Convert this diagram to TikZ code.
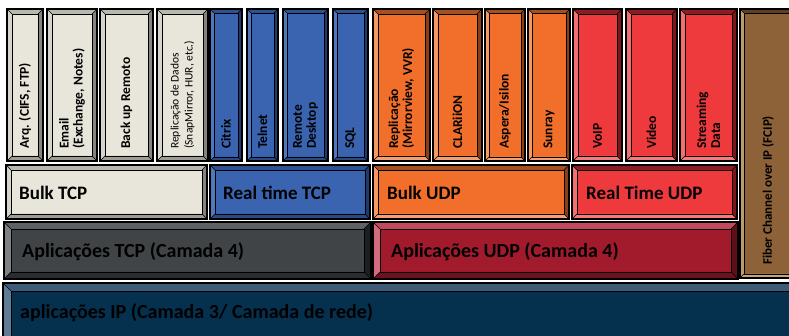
\documentclass[tikz,border=0pt]{standalone}
\usepackage{fontspec}
\setmainfont{Carlito}

% fill, top, left, bottom, right
\definecolor{beigeF}{HTML}{E8E6DA}\definecolor{beigeT}{HTML}{B9B8AE}
\definecolor{beigeL}{HTML}{D6D5CB}\definecolor{beigeB}{HTML}{9D9C95}
\definecolor{beigeR}{HTML}{85847E}
\definecolor{blueF}{HTML}{3A64AF}\definecolor{blueT}{HTML}{2E5192}
\definecolor{blueL}{HTML}{5078BE}\definecolor{blueB}{HTML}{2A4A86}
\definecolor{blueR}{HTML}{1F3A6E}
\definecolor{orangeF}{HTML}{F26F2B}\definecolor{orangeT}{HTML}{A4501F}
\definecolor{orangeL}{HTML}{F79A62}\definecolor{orangeB}{HTML}{F6A072}
\definecolor{orangeR}{HTML}{8A3E14}
\definecolor{redF}{HTML}{EE393D}\definecolor{redT}{HTML}{8E1C20}
\definecolor{redL}{HTML}{F36F72}\definecolor{redB}{HTML}{F47A7C}
\definecolor{redR}{HTML}{7E1519}
\definecolor{brownF}{HTML}{8D6239}\definecolor{brownT}{HTML}{5E3F22}
\definecolor{brownL}{HTML}{C09A70}\definecolor{brownB}{HTML}{C7A47B}
\definecolor{brownR}{HTML}{5A3A1D}
\definecolor{grayF}{HTML}{414446}\definecolor{grayT}{HTML}{5F6264}
\definecolor{grayL}{HTML}{7F8285}\definecolor{grayB}{HTML}{2A2C2E}
\definecolor{grayR}{HTML}{1D1E20}
\definecolor{dredF}{HTML}{A11B2D}\definecolor{dredT}{HTML}{C24A5C}
\definecolor{dredL}{HTML}{D26B7D}\definecolor{dredB}{HTML}{6E1220}
\definecolor{dredR}{HTML}{5E0E18}
\definecolor{navyF}{HTML}{05314F}\definecolor{navyT}{HTML}{3E5C78}
\definecolor{navyL}{HTML}{5E7C96}\definecolor{navyB}{HTML}{031F33}
\definecolor{navyR}{HTML}{021A2B}

% x0, y0, x1, y1, bevel, colour set
\newcommand\bevbox[6]{%
  \fill[#6F] (#1,#2) rectangle (#3,#4);
  \fill[#6T] (#1,#2) -- (#3,#2) -- (#3-#5,#2+#5) -- (#1+#5,#2+#5) -- cycle;
  \fill[#6L] (#1,#2) -- (#1+#5,#2+#5) -- (#1+#5,#4-#5) -- (#1,#4) -- cycle;
  \fill[#6B] (#1,#4) -- (#1+#5,#4-#5) -- (#3-#5,#4-#5) -- (#3,#4) -- cycle;
  \fill[#6R] (#3,#2) -- (#3,#4) -- (#3-#5,#4-#5) -- (#3-#5,#2+#5) -- cycle;
  \draw[line width=0.4pt] (#1,#2) -- (#1+#5,#2+#5) (#3,#2) -- (#3-#5,#2+#5)
    (#1,#4) -- (#1+#5,#4-#5) (#3,#4) -- (#3-#5,#4-#5);
  \draw[line width=0.9pt] (#1+#5,#2+#5) rectangle (#3-#5,#4-#5);
  \draw[line width=1.5pt] (#1,#2) rectangle (#3,#4);
}

\tikzset{
  toplabel/.style={rotate=90, anchor=west, inner sep=0pt, align=left,
    font=\fontsize{13.5}{14}\selectfont\bfseries},
  thinlabel/.style={toplabel, font=\fontsize{11.5}{14}\selectfont},
  rowlabel/.style={anchor=west, inner sep=0pt,
    font=\fontsize{19}{21}\selectfont\bfseries},
  baselabel/.style={rowlabel, font=\fontsize{20}{22}\selectfont\bfseries},
}

\begin{document}
\begin{tikzpicture}[x=1pt, y=-1pt]
  \useasboundingbox (0,0) rectangle (789,336);
  \clip (0,0) rectangle (789,336);

  % top row
  \bevbox{7}{9}{43}{161}{5}{beige}
  \bevbox{47}{9}{97}{161}{5}{beige}
  \bevbox{100}{9}{153}{161}{5}{beige}
  \bevbox{157}{9}{208}{161}{5}{beige}
  \bevbox{210}{9}{242}{161}{4}{blue}
  \bevbox{247}{9}{278}{161}{4}{blue}
  \bevbox{283}{9}{328}{161}{4}{blue}
  \bevbox{333}{9}{368}{161}{4}{blue}
  \bevbox{373}{9}{430}{161}{5}{orange}
  \bevbox{433}{9}{482}{161}{5}{orange}
  \bevbox{485}{9}{525}{161}{4}{orange}
  \bevbox{528}{9}{570}{161}{4}{orange}
  \bevbox{573}{9}{622}{161}{5}{red}
  \bevbox{626}{9}{677}{161}{5}{red}
  \bevbox{680}{9}{737}{161}{5}{red}
  \bevbox{740}{9}{797}{278}{4}{brown}

  \node[toplabel] (arq) at (25,149) {Arq. (CIFS, FTP)};
  \node[toplabel] (email) at (72,149) {Email\\(Exchange, Notes)};
  \node[toplabel] (backup) at (126.5,149) {Back up Remoto};
  \node[thinlabel] (repdados) at (182.5,149) {Replicação de Dados\\(SnapMirror, HUR, etc.)};
  \node[toplabel] (citrix) at (226,149) {Citrix};
  \node[toplabel] (telnet) at (262.5,149) {Telnet};
  \node[toplabel] (rdesk) at (305.5,149) {Remote\\Desktop};
  \node[toplabel] (sql) at (350.5,149) {SQL};
  \node[toplabel] (repmv) at (401.5,149) {Replicação\\(Mirrorview, VVR)};
  \node[toplabel] (clariion) at (457.5,149) {CLARiiON};
  \node[toplabel] (aspera) at (505,149) {Aspera/Isilon};
  \node[toplabel] (sunray) at (549,149) {Sunray};
  \node[toplabel] (voip) at (597.5,149) {VoIP};
  \node[toplabel] (video) at (651.5,149) {Video};
  \node[toplabel] (stream) at (708.5,149) {Streaming\\Data};
  \node[toplabel, font=\fontsize{13}{14}\selectfont\bfseries] (fcip) at (768,265)
    {Fiber Channel over IP (FCIP)};

  % middle rows
  \bevbox{6}{165}{207}{219}{5}{beige}
  \bevbox{210}{165}{370}{219}{5}{blue}
  \bevbox{373}{165}{569}{219}{5}{orange}
  \bevbox{572}{165}{737}{219}{5}{red}
  \node[rowlabel] (bulktcp) at (19,193) {Bulk TCP};
  \node[rowlabel] (rttcp) at (223,193) {Real time TCP};
  \node[rowlabel] (bulkudp) at (387,193) {Bulk UDP};
  \node[rowlabel] (rtudp) at (586,193) {Real Time UDP};

  \bevbox{4}{222}{371}{279}{7}{gray}
  \bevbox{373}{222}{738}{279}{7}{dred}
  \node[baselabel] (apptcp) at (22,252) {Aplicações TCP (Camada 4)};
  \node[baselabel] (appudp) at (391,252) {Aplicações UDP (Camada 4)};

  % base
  \bevbox{3}{283}{800}{345}{8}{navy}
  \node[baselabel] (appip) at (20,313) {aplicações IP (Camada 3/ Camada de rede)};
\end{tikzpicture}
\end{document}
